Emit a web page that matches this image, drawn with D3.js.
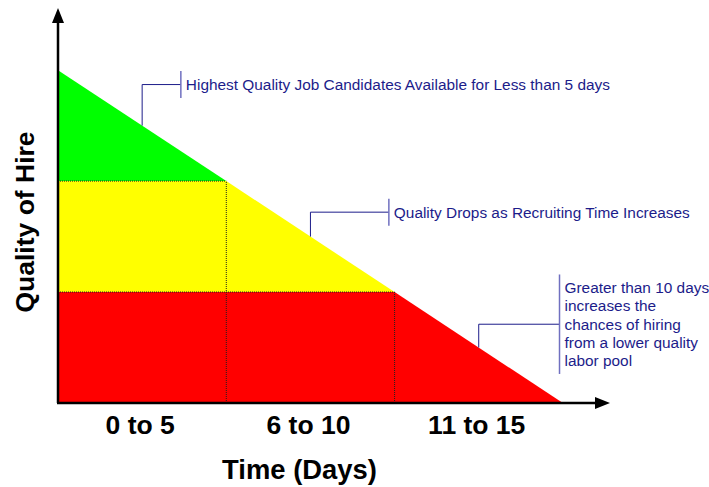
<!DOCTYPE html>
<html>
<head>
<meta charset="utf-8">
<script src="https://cdn.jsdelivr.net/npm/d3@7"></script>
<style>
  body { margin: 0; background: #fff; }
  text { font-family: "Liberation Sans", Arial, sans-serif; }
  .cat-label, .axis-title { font-weight: bold; fill: #000; }
  .note { fill: #1c1c8a; font-size: 15.4px; }
</style>
</head>
<body>
<div id="chart"></div>
<script>
// bands of recruiting time (days) and quality level reached at each band edge
const bands = ["0 to 5", "6 to 10", "11 to 15"];
const bandEdges = [0, 5, 10, 15];
const qualityAtEdge = [3, 2, 1, 0];
const zoneColors = ["#00ff00", "#ffff00", "#ff0000"];

// callouts: text lines and the day on the slope they point at
const noteText = [
    ["Highest Quality Job Candidates Available for Less than 5 days"],
    ["Quality Drops as Recruiting Time Increases"],
    ["Greater than 10 days", "increases the", "chances of hiring", "from a lower quality", "labor pool"]
];
const noteDay = [2.5, 7.5, 12.5];
const noteElbow = [2.87, 1.72, 0.71];   // quality level of the elbow
const noteBarDay = [3.65, 9.83, 14.9];  // day where the bracket sits

let margin = {top: 8, right: 99, bottom: 84, left: 58};
let width = 709 - margin.left - margin.right;
let height = 487 - margin.top - margin.bottom;

let svg = d3.select("#chart").append("svg")
    .attr("width", 709)
    .attr("height", 487)
    .append("g")
    .attr("transform", "translate(" + margin.left + "," + margin.top + ")");

// scales
let x = d3.scaleLinear().domain([0, 16.4]).range([0, width]);
let y = d3.scaleLinear().domain([0, 3.56]).range([height, 0]);

// slope: quality as a function of day
let slope = d3.scaleLinear().domain(d3.extent(bandEdges)).range([qualityAtEdge[0], qualityAtEdge[3]]);

// zones (green top, yellow middle, red bottom)
let zones = [
    [[0, qualityAtEdge[0]], [0, qualityAtEdge[1]], [bandEdges[1], qualityAtEdge[1]]],
    [[0, qualityAtEdge[1]], [0, qualityAtEdge[2]], [bandEdges[2], qualityAtEdge[2]], [bandEdges[1], qualityAtEdge[1]]],
    [[0, qualityAtEdge[2]], [0, 0], [bandEdges[3], 0], [bandEdges[2], qualityAtEdge[2]]]
];

let line = d3.line().x(d => x(d[0])).y(d => y(d[1]));

svg.selectAll(".zone")
    .data(zones)
    .enter().append("path")
    .attr("class", "zone")
    .attr("d", d => line(d) + "Z")
    .attr("fill", (d, i) => zoneColors[i]);

// dotted grid between zones
let dotted = [];
[1, 2].forEach(i => {
    dotted.push([[0, qualityAtEdge[i]], [bandEdges[i], qualityAtEdge[i]]]);
    dotted.push([[bandEdges[i], 0], [bandEdges[i], qualityAtEdge[i]]]);
});
svg.selectAll(".dotted")
    .data(dotted)
    .enter().append("path")
    .attr("d", line)
    .attr("fill", "none")
    .attr("stroke", "#222")
    .attr("stroke-width", 1)
    .attr("stroke-dasharray", "1,1");

// axes with arrow heads
let ax = svg.append("g").attr("class", "axes");
ax.append("line")
    .attr("x1", x(0)).attr("y1", y(0))
    .attr("x2", x(0)).attr("y2", 12)
    .attr("stroke", "#000").attr("stroke-width", 2.5);
ax.append("line")
    .attr("x1", x(0) - 1).attr("y1", y(0))
    .attr("x2", width - 12).attr("y2", y(0))
    .attr("stroke", "#000").attr("stroke-width", 2.5);
ax.append("path")
    .attr("d", `M${x(0)},0 L${x(0) - 6},15 L${x(0) + 6},15 Z`)
    .attr("fill", "#000");
ax.append("path")
    .attr("d", `M${width},${y(0)} L${width - 15},${y(0) - 6} L${width - 15},${y(0) + 6} Z`)
    .attr("fill", "#000");

// band labels
svg.selectAll(".cat-label")
    .data(bands)
    .enter().append("text")
    .attr("class", "cat-label")
    .attr("x", (d, i) => x((bandEdges[i] + bandEdges[i + 1]) / 2) - 2)
    .attr("y", y(0) + 31)
    .attr("text-anchor", "middle")
    .style("font-size", "26.5px")
    .text(d => d);

// axis titles
svg.append("text")
    .attr("class", "axis-title")
    .attr("x", 241.5)
    .attr("y", y(0) + 76)
    .attr("text-anchor", "middle")
    .style("font-size", "27.4px")
    .text("Time (Days)");

svg.append("text")
    .attr("class", "axis-title")
    .attr("transform", `translate(${-24},${214}) rotate(-90)`)
    .attr("text-anchor", "middle")
    .style("font-size", "26.5px")
    .text("Quality of Hire");

// callouts
noteText.forEach((lines, i) => {
    let g = svg.append("g").attr("class", "callout");
    let ax0 = x(noteDay[i]), ay0 = y(slope(noteDay[i]));
    let ey = y(noteElbow[i]);
    let bx = x(noteBarDay[i]);
    let lineH = 18.3;
    let half = lines.length === 1 ? 13.5 : (lines.length * lineH) / 2 + 4;

    g.append("path")
        .attr("d", `M${ax0},${ay0} V${ey} H${bx}`)
        .attr("fill", "none")
        .attr("stroke", "#1c1c8a")
        .attr("stroke-width", 1);
    g.append("line")
        .attr("x1", bx).attr("x2", bx)
        .attr("y1", ey - half).attr("y2", ey + half)
        .attr("stroke", "#7070c0")
        .attr("stroke-width", 1.5);

    let top = ey - (lines.length - 1) * lineH / 2;
    g.selectAll("text")
        .data(lines)
        .enter().append("text")
        .attr("class", "note")
        .attr("x", bx + 5)
        .attr("y", (d, j) => top + j * lineH)
        .attr("dy", "0.35em")
        .text(d => d);
});
</script>
</body>
</html>
